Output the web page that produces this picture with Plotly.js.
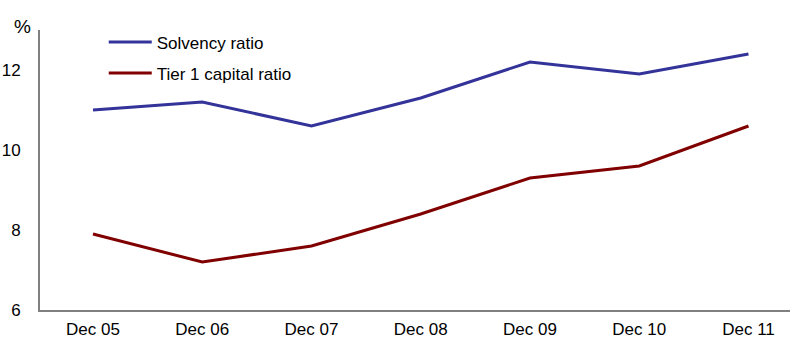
<!DOCTYPE html>
<html>
<head>
<meta charset="utf-8">
<script src="https://cdn.plot.ly/plotly-3.0.1.min.js"></script>
<style>html,body{margin:0;padding:0;background:#fff}#chart{width:790px;height:338px}</style>
</head>
<body>
<div id="chart"></div>
<script>
const categories = ["Dec 05","Dec 06","Dec 07","Dec 08","Dec 09","Dec 10","Dec 11"];
const solvency = [11.0, 11.2, 10.6, 11.3, 12.2, 11.9, 12.4];
const tier1 = [7.9, 7.2, 7.6, 8.4, 9.3, 9.6, 10.6];
const yTicks = [6, 8, 10, 12];

const font = {family: "Liberation Sans, Arial, sans-serif", size: 17, color: "#000"};

const traces = [
  {x: categories, y: solvency, type: "scatter", mode: "lines", name: "Solvency ratio",
   legendgroup: "a", line: {color: "#333399", width: 3}},
  {x: categories, y: tier1, type: "scatter", mode: "lines", name: "Tier 1 capital ratio",
   legendgroup: "b", line: {color: "#800000", width: 3}}
];

const layout = {
  width: 790, height: 338,
  margin: {l: 40, r: 0, t: 30, b: 28},
  paper_bgcolor: "#fff", plot_bgcolor: "#fff",
  font: font,
  showlegend: true,
  legend: {x: 0.085, y: 1.02, xanchor: "left", yanchor: "top", bgcolor: "rgba(0,0,0,0)",
           traceorder: "grouped", tracegroupgap: 6, itemwidth: 43, font: font},
  xaxis: {type: "category", range: [-0.485, 6.38], showgrid: false, zeroline: false,
          showline: true, linecolor: "#808080", linewidth: 2, ticks: "", ticklabelstandoff: 3,
          tickfont: font},
  yaxis: {range: [6, 13], tickvals: yTicks, showgrid: false, zeroline: false,
          showline: true, linecolor: "#808080", linewidth: 2, ticks: "", ticklabelstandoff: 14,
          tickfont: font},
  annotations: [{text: "%", xref: "paper", yref: "paper", x: -0.024, y: 1.014,
                 xanchor: "center", yanchor: "middle", showarrow: false,
                 font: {family: font.family, size: 19, color: "#000"}}]
};

Plotly.newPlot("chart", traces, layout, {displayModeBar: false, staticPlot: true});
</script>
</body>
</html>
